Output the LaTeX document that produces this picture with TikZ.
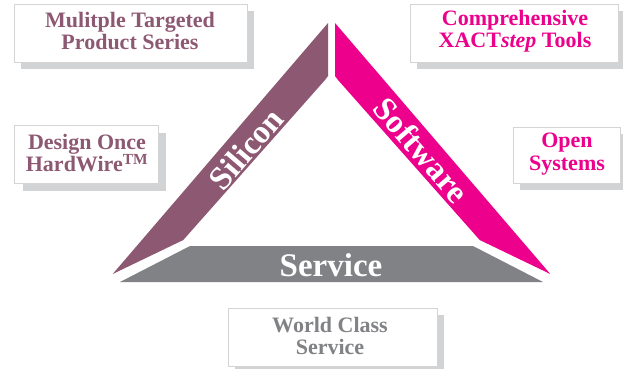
\documentclass[tikz,border=0pt]{standalone}
\usepackage{fontspec}
\setmainfont{Liberation Serif}
\definecolor{maroon}{HTML}{8D5872}
\definecolor{hotpink}{HTML}{EC008C}
\definecolor{bandgray}{HTML}{808285}
\definecolor{shadowgray}{HTML}{D1D3D4}
\definecolor{cardline}{HTML}{D4D4D4}
\begin{document}
\begin{tikzpicture}[x=1pt,y=-1pt,
  shade box/.style={fill=shadowgray, draw=none},
  card/.style={draw=cardline, line width=0.8pt, fill=white, inner sep=0pt},
  cardtext/.style={inner sep=0pt, align=center, font=\bfseries\fontsize{22}{22.5}\selectfont},
  bandlabel/.style={text=white, inner sep=0pt, font=\bfseries\fontsize{33}{33}\selectfont}]
\useasboundingbox (0,0) rectangle (623,369);

% bands
\fill[maroon] (112.7,274) -- (328,23) -- (328,76) -- (325,80) -- (183.3,240) -- cycle;
\fill[hotpink] (550.3,274) -- (335,23) -- (335,76) -- (338,80) -- (479.7,240) -- cycle;
\fill[bandgray] (120,282) -- (190,246) -- (473,246) -- (543,282) -- cycle;

\node[bandlabel, rotate=49.4] (silicon) at (246,149) {Silicon};
\node[bandlabel, rotate=-49.4] (software) at (421.5,150) {Software};
\node[bandlabel] (service) at (331,265.5) {Service};

% box 1
\fill[shade box] (21,11) rectangle (254,69);
\node[card, minimum width=233pt, minimum height=58pt] (b1) at (130.5,33) {};
\node[cardtext, text=maroon] (t1) at (130,31) {Mulitple Targeted\\Product Series};

% box 2
\fill[shade box] (417,11) rectangle (623,69);
\node[card, minimum width=208pt, minimum height=58pt] (b2) at (514,33) {};
\node[cardtext, text=hotpink] (t2) at (515,31) {Comprehensive\\XACT\textit{step} Tools};

% box 3
\fill[shade box] (520,134) rectangle (623,190);
\node[card, minimum width=107pt, minimum height=56pt] (b3) at (566.5,155) {};
\node[cardtext, text=hotpink] (t3) at (567,154) {Open\\Systems};

% box 4
\fill[shade box] (23,133) rectangle (166,191);
\node[card, minimum width=144pt, minimum height=58pt] (b4) at (86,154) {};
\node[cardtext, text=maroon] (t4) at (87,153) {Design Once\\HardWire\textsuperscript{TM}};

% box 5
\fill[shade box] (235,315) rectangle (444,369);
\node[card, minimum width=209pt, minimum height=58pt] (b5) at (332.5,337) {};
\node[cardtext, text=bandgray] (t5) at (330,336) {World Class\\Service};
\end{tikzpicture}
\end{document}
